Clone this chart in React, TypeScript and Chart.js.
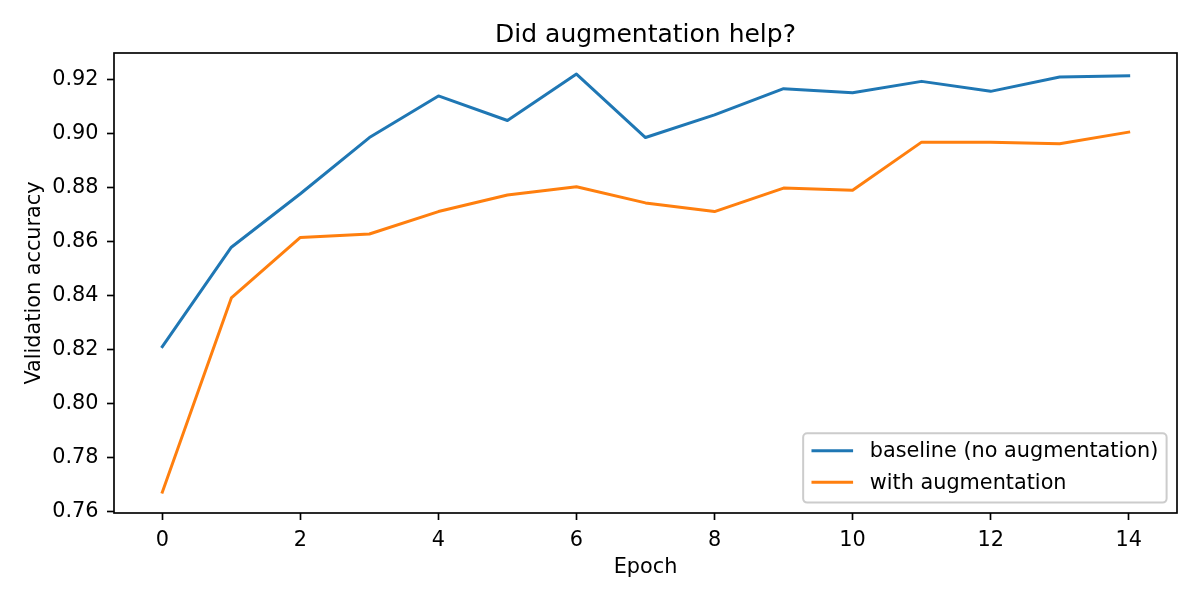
import React, { useEffect, useRef } from "react";
import { Chart, registerables } from "chart.js";

Chart.register(...registerables);

const epochs: number[] = [0, 1, 2, 3, 4, 5, 6, 7, 8, 9, 10, 11, 12, 13, 14];
const baseline: number[] = [0.8212, 0.858, 0.8778, 0.8986, 0.914, 0.9049, 0.9221, 0.8986, 0.907, 0.9167, 0.9152, 0.9194, 0.9157, 0.921, 0.9215];
const augmented: number[] = [0.7673, 0.8392, 0.8616, 0.8629, 0.8712, 0.8773, 0.8804, 0.8744, 0.8712, 0.8799, 0.8791, 0.8969, 0.8969, 0.8963, 0.9006];
const xTicks: number[] = [0, 2, 4, 6, 8, 10, 12, 14];
const yTicks: number[] = [0.76, 0.78, 0.8, 0.82, 0.84, 0.86, 0.88, 0.9, 0.92];
const seriesLabels: string[] = ["baseline (no augmentation)", "with augmentation"];
const seriesColors: string[] = ["#1f77b4", "#ff7f0e"];
const titleText = "Did augmentation help?";
const xTitle = "Epoch";
const yTitle = "Validation accuracy";

const X_MIN = -0.7;
const X_MAX = 14.7;
const Y_MIN = 0.7596;
const Y_MAX = 0.9299;

const FONT = '"DejaVu Sans", sans-serif';
const FS = 20.8;

const framePlugin = {
  id: "frameTitleLegend",
  afterDraw(chart: any) {
    const { ctx, chartArea } = chart;
    const { left, right, top, bottom } = chartArea;
    ctx.save();
    // frame
    ctx.strokeStyle = "#000";
    ctx.lineWidth = 1.67;
    ctx.strokeRect(left, top, right - left, bottom - top);
    // title
    ctx.fillStyle = "#000";
    ctx.font = `25px ${FONT}`;
    ctx.textAlign = "center";
    ctx.textBaseline = "alphabetic";
    ctx.fillText(titleText, (left + right) / 2, top - 11.5);
    // legend
    ctx.font = `${FS}px ${FONT}`;
    const textW = Math.max(...seriesLabels.map((s) => ctx.measureText(s).width));
    const pad = 0.4 * FS;
    const handle = 2 * FS;
    const htp = 0.8 * FS;
    const w = pad + handle + htp + textW + pad;
    const h = 69.3;
    const bx = right - 10.4 - w;
    const by = bottom - 10.4 - h;
    ctx.beginPath();
    if ((ctx as any).roundRect) (ctx as any).roundRect(bx, by, w, h, 4);
    else ctx.rect(bx, by, w, h);
    ctx.fillStyle = "rgba(255,255,255,0.8)";
    ctx.fill();
    ctx.strokeStyle = "#cccccc";
    ctx.lineWidth = 2;
    ctx.stroke();
    const rows = [by + 17.4, by + 49];
    seriesLabels.forEach((lab, i) => {
      const yy = rows[i];
      ctx.beginPath();
      ctx.strokeStyle = seriesColors[i];
      ctx.lineWidth = 3;
      ctx.moveTo(bx + pad, yy);
      ctx.lineTo(bx + pad + handle, yy);
      ctx.stroke();
      ctx.fillStyle = "#000";
      ctx.textAlign = "left";
      ctx.textBaseline = "alphabetic";
      ctx.fillText(lab, bx + pad + handle + htp, yy + 6.5);
    });
    ctx.restore();
  },
};

export default function App() {
  const ref = useRef<HTMLCanvasElement | null>(null);
  useEffect(() => {
    if (!ref.current) return;
    const chart = new Chart(ref.current, {
      type: "line",
      data: {
        datasets: [
          {
            label: seriesLabels[0],
            data: epochs.map((e, i) => ({ x: e, y: baseline[i] })),
            borderColor: seriesColors[0],
            backgroundColor: seriesColors[0],
            borderWidth: 3,
            pointRadius: 0,
            tension: 0,
            fill: false,
            borderJoinStyle: "round",
            borderCapStyle: "square",
          },
          {
            label: seriesLabels[1],
            data: epochs.map((e, i) => ({ x: e, y: augmented[i] })),
            borderColor: seriesColors[1],
            backgroundColor: seriesColors[1],
            borderWidth: 3,
            pointRadius: 0,
            tension: 0,
            fill: false,
            borderJoinStyle: "round",
            borderCapStyle: "square",
          },
        ],
      },
      options: {
        animation: false,
        responsive: true,
        maintainAspectRatio: false,
        devicePixelRatio: 1,
        events: [],
        layout: { padding: { top: 53, right: 23, left: 0, bottom: 0 } },
        plugins: {
          legend: { display: false },
          tooltip: { enabled: false },
          title: { display: false },
        },
        scales: {
          x: {
            type: "linear",
            min: X_MIN,
            max: X_MAX,
            afterFit: (s: any) => {
              s.height = 87;
            },
            afterBuildTicks: (s: any) => {
              s.ticks = xTicks.map((v) => ({ value: v }));
            },
            grid: {
              display: true,
              drawOnChartArea: false,
              drawTicks: true,
              tickLength: 7,
              tickWidth: 1.67,
              tickColor: "#000",
              color: "#000",
            },
            border: { display: false },
            ticks: {
              color: "#000",
              font: { family: FONT, size: FS },
              padding: 8.5,
              maxRotation: 0,
              autoSkip: false,
              callback: (v: any) => String(v),
            },
            title: {
              display: true,
              text: xTitle,
              color: "#000",
              font: { family: FONT, size: FS },
              padding: { top: 0, bottom: 19.5 },
            },
          },
          y: {
            type: "linear",
            min: Y_MIN,
            max: Y_MAX,
            afterFit: (s: any) => {
              s.width = 114;
            },
            afterBuildTicks: (s: any) => {
              s.ticks = yTicks.map((v) => ({ value: v }));
            },
            grid: {
              display: true,
              drawOnChartArea: false,
              drawTicks: true,
              tickLength: 7,
              tickWidth: 1.67,
              tickColor: "#000",
              color: "#000",
            },
            border: { display: false },
            ticks: {
              color: "#000",
              font: { family: FONT, size: FS },
              padding: 8.5,
              autoSkip: false,
              callback: (v: any) => Number(v).toFixed(2),
            },
            title: {
              display: true,
              text: yTitle,
              color: "#000",
              font: { family: FONT, size: FS },
              padding: { top: 22, bottom: 0 },
            },
          },
        },
      },
      plugins: [framePlugin],
    } as any);
    return () => chart.destroy();
  }, []);
  return (
    <div style={{ position: "absolute", left: 0, top: 0, width: 1200, height: 600 }}>
      <canvas ref={ref} />
    </div>
  );
}
